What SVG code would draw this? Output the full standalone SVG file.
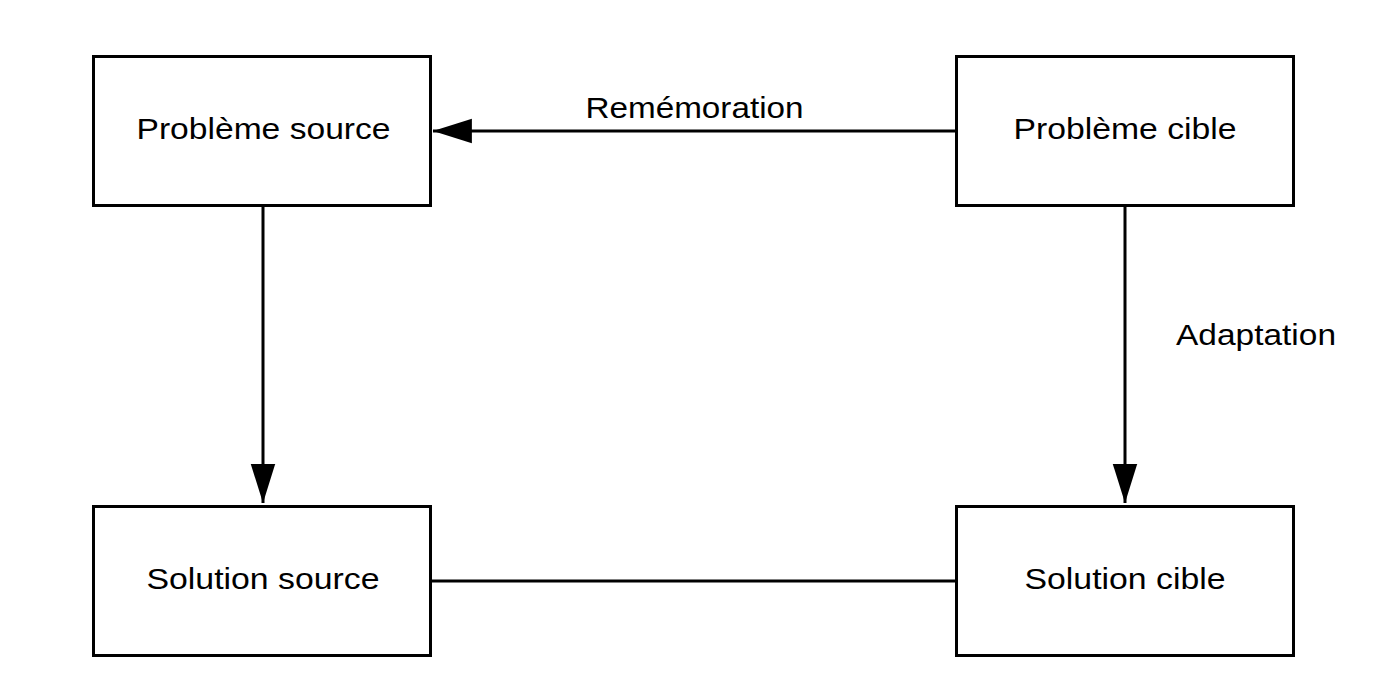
<svg xmlns="http://www.w3.org/2000/svg" width="1400" height="700" viewBox="0 0 1400 700">
<style>
.box{fill:#fff;stroke:#000;stroke-width:3}
.lbl{font-family:"Liberation Sans",Arial,sans-serif;font-size:29px;fill:#000;text-anchor:middle}
.edge{fill:none;stroke:#000;stroke-width:3}
</style>
<defs>
<marker id="arr" markerUnits="userSpaceOnUse" markerWidth="40" markerHeight="30" viewBox="0 0 36 22" refX="35" refY="11" orient="auto">
<path d="M0,0 L35,11 L0,22 Z" fill="#000"/>
</marker>
</defs>
<rect width="1400" height="700" fill="#fff"/>
<g id="connectors">
<path class="edge" d="M956,131 L433,131" marker-end="url(#arr)"/>
<path class="edge" d="M263,206 L263,503" marker-end="url(#arr)"/>
<path class="edge" d="M1125,206 L1125,503" marker-end="url(#arr)"/>
<path class="edge" d="M431,581 L956,581"/>
<text class="lbl" x="694.5" y="118" textLength="218" lengthAdjust="spacingAndGlyphs">Remémoration</text>
<text class="lbl" x="1256" y="345" textLength="160" lengthAdjust="spacingAndGlyphs">Adaptation</text>
</g>
<g id="probleme-source">
<rect class="box" x="93.5" y="56.5" width="337" height="149"/>
<text class="lbl" x="263.5" y="139" textLength="254" lengthAdjust="spacingAndGlyphs">Problème source</text>
</g>
<g id="probleme-cible">
<rect class="box" x="956.5" y="56.5" width="337" height="149"/>
<text class="lbl" x="1125" y="139" textLength="223" lengthAdjust="spacingAndGlyphs">Problème cible</text>
</g>
<g id="solution-source">
<rect class="box" x="93.5" y="506.5" width="337" height="149"/>
<text class="lbl" x="263" y="589" textLength="233" lengthAdjust="spacingAndGlyphs">Solution source</text>
</g>
<g id="solution-cible">
<rect class="box" x="956.5" y="506.5" width="337" height="149"/>
<text class="lbl" x="1125" y="589" textLength="201" lengthAdjust="spacingAndGlyphs">Solution cible</text>
</g>
</svg>
